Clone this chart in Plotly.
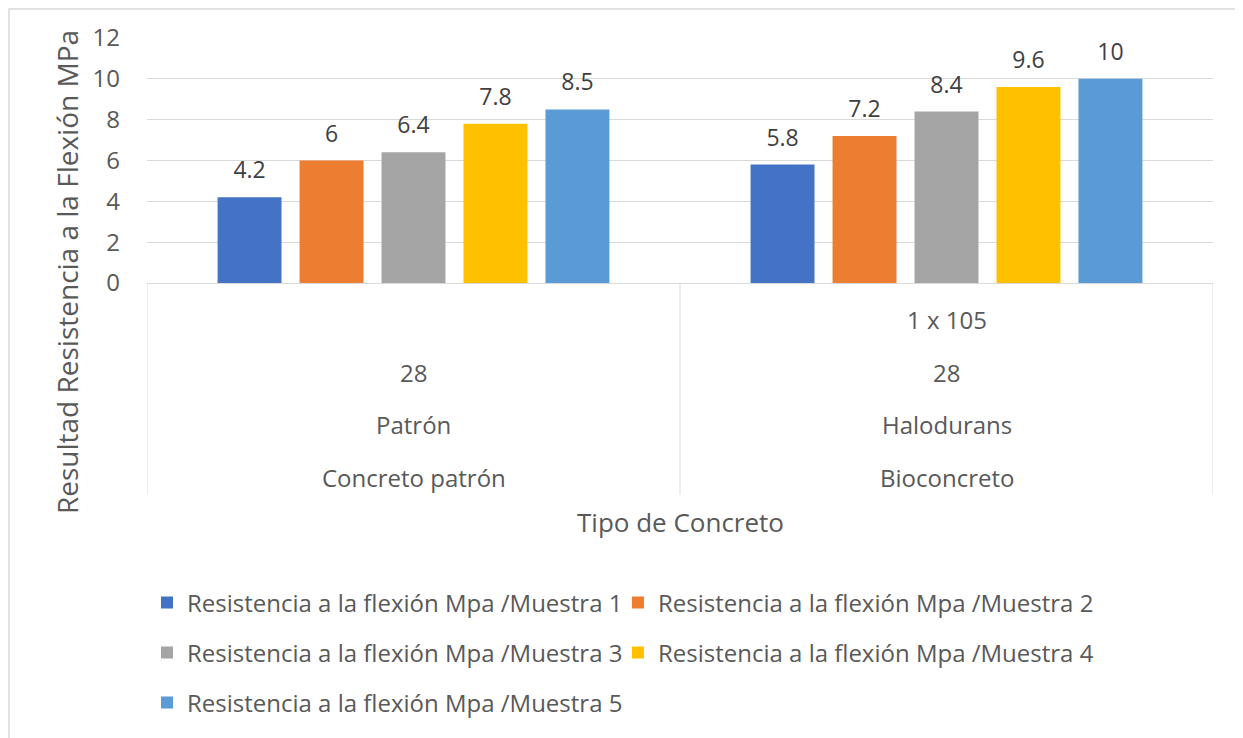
import plotly.graph_objects as go

# category levels (outer -> inner)
categories = ["Concreto patrón", "Bioconcreto"]
level_tipo = ["Patrón", "Halodurans"]
level_dias = ["28", "28"]
level_conc = ["", "1 x 105"]

series_names = [
    "Resistencia a la flexión Mpa /Muestra 1",
    "Resistencia a la flexión Mpa /Muestra 2",
    "Resistencia a la flexión Mpa /Muestra 3",
    "Resistencia a la flexión Mpa /Muestra 4",
    "Resistencia a la flexión Mpa /Muestra 5",
]
muestra_1 = [4.2, 5.8]
muestra_2 = [6, 7.2]
muestra_3 = [6.4, 8.4]
muestra_4 = [7.8, 9.6]
muestra_5 = [8.5, 10]

colors = ["#4472C4", "#ED7D31", "#A5A5A5", "#FFC000", "#5B9BD5"]

FONT = "Open Sans"
TEXT = "#595959"
SIZE = 24

# one legend per entry so the two columns sit like the Excel legend
legend_ids = ["legend", "legend2", "legend3", "legend4", "legend5"]
legend_pos = [(0, -1.306), (0.4418, -1.306), (0, -1.510), (0.4418, -1.510), (0, -1.714)]

fig = go.Figure()

for name, vals, color, lg in zip(
    series_names,
    [muestra_1, muestra_2, muestra_3, muestra_4, muestra_5],
    colors,
    legend_ids,
):
    fig.add_trace(
        go.Bar(
            x=categories,
            y=vals,
            name=name,
            marker=dict(color=color, line=dict(width=0)),
            text=vals,
            # small second line lifts the label a bit above the bar
            texttemplate="<span style='font-size:23px'>%{y}</span><br>&nbsp;",
            textposition="outside",
            constraintext="none",
            textfont=dict(family=FONT, size=10, color="#404040"),
            cliponaxis=False,
            showlegend=True,
            legend=lg,
        )
    )

annotations = []
# multi-level category labels under the plot
for levels, ypos in [
    (level_conc, -0.151),
    (level_dias, -0.367),
    (level_tipo, -0.576),
    (categories, -0.792),
]:
    for cat, label in zip(categories, levels):
        if not label:
            continue
        annotations.append(
            dict(
                x=cat, y=ypos, xref="x", yref="paper",
                text=label, showarrow=False,
                font=dict(family=FONT, size=SIZE, color=TEXT),
                xanchor="center", yanchor="middle",
            )
        )

annotations.append(
    dict(
        x=0.5, y=-0.976, xref="paper", yref="paper",
        text="Tipo de Concreto", showarrow=False,
        font=dict(family=FONT, size=26, color=TEXT),
        xanchor="center", yanchor="middle",
    )
)
annotations.append(
    dict(
        x=-0.075, y=0.045, xref="paper", yref="paper",
        text="Resultad Resistencia a la Flexión MPa", showarrow=False,
        textangle=-90,
        font=dict(family=FONT, size=28, color=TEXT),
        xanchor="center", yanchor="middle",
    )
)

shapes = []
# dividers of the category axis
for xv in [-0.5, 0.5, 1.5]:
    shapes.append(
        dict(
            type="line", xref="x", yref="paper",
            x0=xv, x1=xv, y0=0, y1=-0.865,
            line=dict(color="#D9D9D9", width=1),
        )
    )
# chart border
shapes.append(
    dict(
        type="rect", xref="paper", yref="paper",
        x0=-0.1295, x1=1.0253, y0=1.118, y1=-1.9,
        line=dict(color="#D9D9D9", width=1.5),
        fillcolor="rgba(0,0,0,0)",
    )
)

legends = {}
for lg, (lx, ly) in zip(legend_ids, legend_pos):
    legends[lg] = dict(
        orientation="h",
        x=lx,
        y=ly,
        xanchor="left",
        yanchor="middle",
        font=dict(family=FONT, size=SIZE, color=TEXT),
        bgcolor="rgba(0,0,0,0)",
    )

fig.update_layout(
    width=1235,
    height=730,
    margin=dict(l=139, r=30, t=30, b=455),
    paper_bgcolor="white",
    plot_bgcolor="white",
    font=dict(family=FONT, color=TEXT),
    showlegend=True,
    barmode="group",
    bargap=0.231,
    bargroupgap=0.22,
    xaxis=dict(
        type="category",
        range=[-0.5, 1.5],
        showticklabels=False,
        showgrid=False,
        showline=True,
        linecolor="#D9D9D9",
        linewidth=1,
        ticks="",
    ),
    yaxis=dict(
        range=[0, 12],
        dtick=2,
        showgrid=True,
        gridcolor="#D9D9D9",
        gridwidth=1,
        zeroline=False,
        ticks="",
        ticklabelstandoff=26,
        tickfont=dict(family=FONT, size=SIZE, color=TEXT),
    ),
    annotations=annotations,
    shapes=shapes,
    **legends,
)

fig.write_html("out.html")
